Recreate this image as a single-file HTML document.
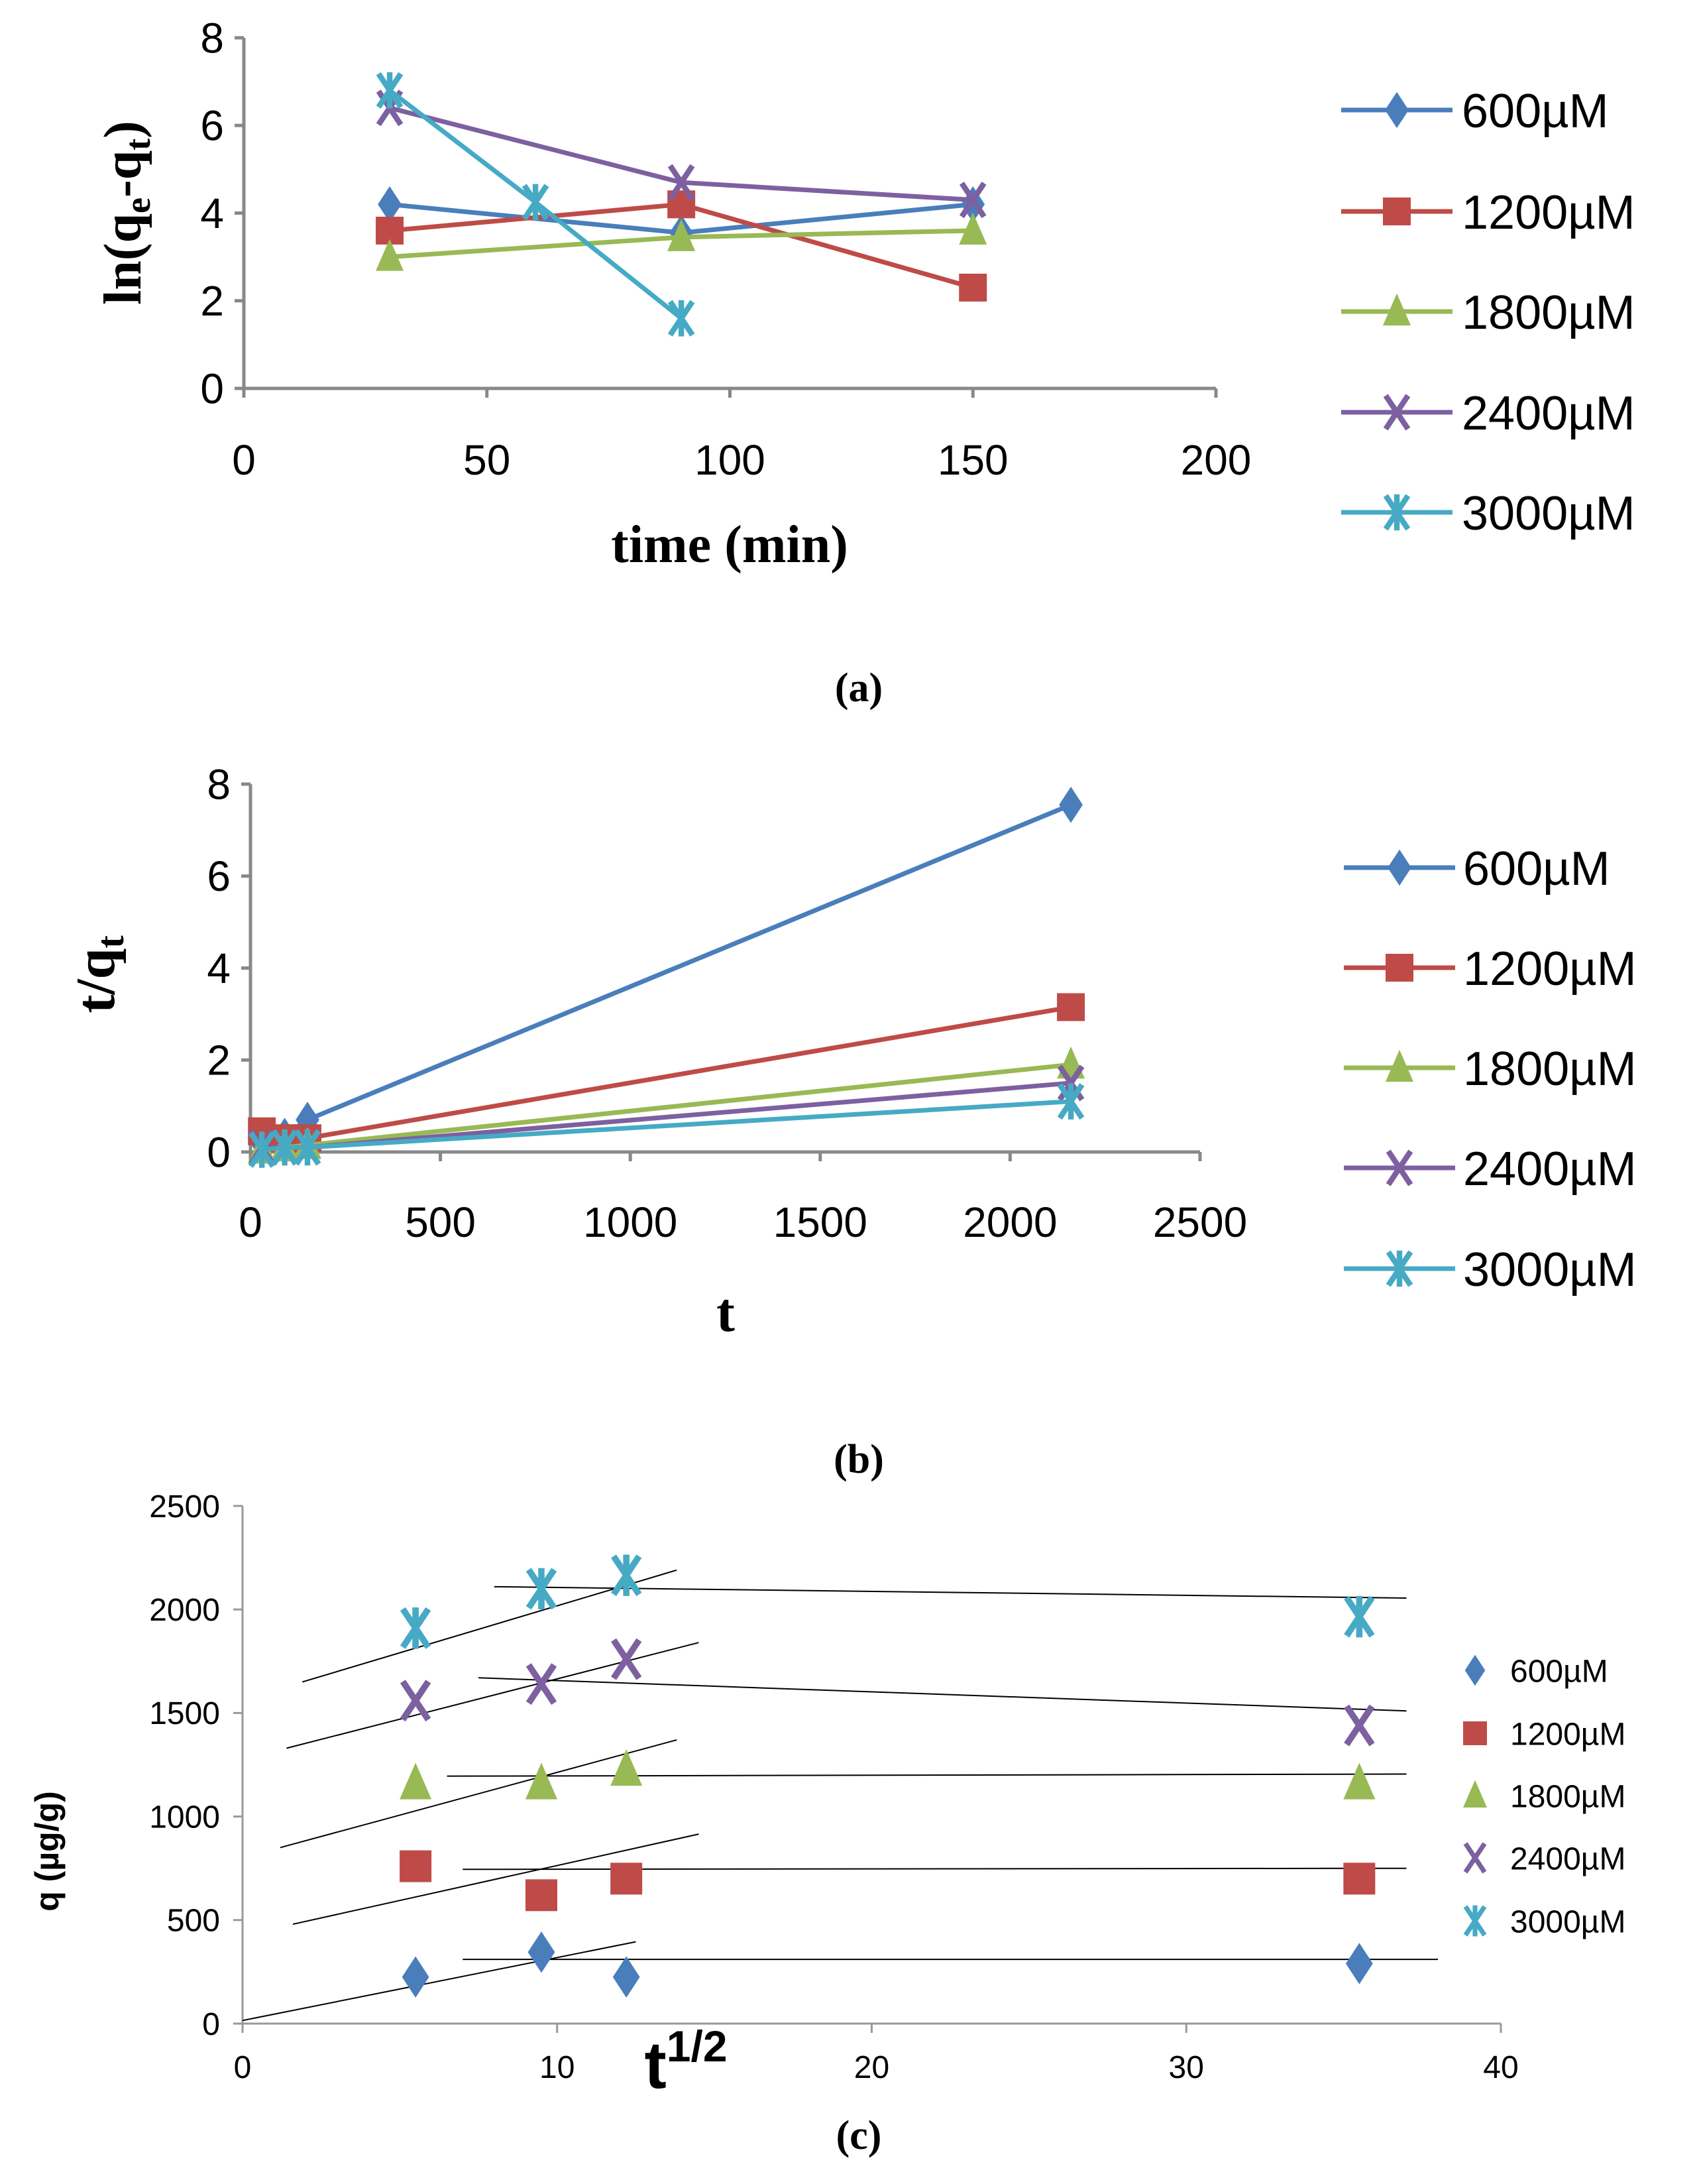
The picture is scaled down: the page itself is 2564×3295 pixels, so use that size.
<!DOCTYPE html>
<html><head><meta charset="utf-8"><style>
html,body{margin:0;padding:0;background:#fff}
svg{display:block}
text{font-family:"Liberation Sans Narrow","Liberation Sans",sans-serif}
.serif{font-family:"Liberation Serif",serif;font-weight:bold}
.sansb{font-family:"Liberation Sans",sans-serif;font-weight:bold}
</style></head><body>
<svg id="fig" width="2564" height="3295" viewBox="0 0 2564 3295" xmlns="http://www.w3.org/2000/svg"></svg>
<script>
const seriesNames=["600µM","1200µM","1800µM","2400µM","3000µM"];
const colors=["#4a7ebb","#be4b48","#98b954","#7d60a0","#46aac5"];
const markers=["diamond","square","triangle","x","star"];
// chart a
const aX=[[30,90,150],[30,90,150],[30,90,150],[30,90,150],[30,60,90]];
const aY=[[4.2,3.55,4.2],[3.6,4.2,2.3],[3.0,3.45,3.6],[6.4,4.7,4.3],[6.8,4.25,1.6]];
const aXTicks=[0,50,100,150,200];
const aYTicks=[0,2,4,6,8];
// chart b
const bX=[30,90,150,2160];
const bY=[[0.2,0.35,0.7,7.55],[0.45,0.3,0.3,3.15],[0.05,0.1,0.15,1.9],[0.1,0.1,0.1,1.5],[0.05,0.1,0.1,1.1]];
const bXTicks=[0,500,1000,1500,2000,2500];
const bYTicks=[0,2,4,6,8];
// chart c
const cX=[5.5,9.5,12.2,35.5];
const cY=[[225,345,225,290],[760,620,700,700],[1160,1160,1225,1160],[1560,1640,1760,1440],[1910,2100,2165,1965]];
const cRise=[[0,15,12.5,395],[1.6,480,14.5,915],[1.2,850,13.8,1370],[1.4,1330,14.5,1840],[1.9,1650,13.8,2190]];
const cFlat=[[7,310,38,310],[7,745,37,750],[6.5,1195,37,1205],[7.5,1670,37,1510],[8,2110,37,2055]];
const cXTicks=[0,10,20,30,40];
const cYTicks=[0,500,1000,1500,2000,2500];

const svg=document.getElementById('fig');
const NS="http://www.w3.org/2000/svg";
function mk(tag,attrs,parent){const e=document.createElementNS(NS,tag);for(const k in attrs)e.setAttribute(k,attrs[k]);(parent||svg).appendChild(e);return e;}
function txt(s,attrs,parent){const e=mk('text',attrs,parent);e.textContent=s;return e;}
function marker(type,x,y,s,color,g){
  if(type==="diamond")return mk('polygon',{points:`${x},${y-s*1.3} ${x+s*0.85},${y} ${x},${y+s*1.3} ${x-s*0.85},${y}`,fill:color},g);
  if(type==="square")return mk('rect',{x:x-s,y:y-s,width:2*s,height:2*s,fill:color},g);
  if(type==="triangle")return mk('polygon',{points:`${x},${y-s*1.3} ${x+s},${y+s} ${x-s},${y+s}`,fill:color},g);
  if(type==="x")return mk('path',{d:`M${x-s*0.8},${y-s*1.2}L${x+s*0.8},${y+s*1.2}M${x+s*0.8},${y-s*1.2}L${x-s*0.8},${y+s*1.2}`,stroke:color,'stroke-width':s*0.4,fill:'none'},g);
  return mk('path',{d:`M${x-s*0.8},${y-s*1.2}L${x+s*0.8},${y+s*1.2}M${x+s*0.8},${y-s*1.2}L${x-s*0.8},${y+s*1.2}M${x},${y-s*1.3}L${x},${y+s*1.3}`,stroke:color,'stroke-width':s*0.4,fill:'none'},g);
}
function axes(g,X,Y,xt,yt,x0,x1,y0,y1,fs,lblDx,lblDy,tickw,axColor){
  mk('line',{x1:X(x0),y1:Y(y0),x2:X(x0),y2:Y(y1),stroke:axColor,'stroke-width':tickw},g);
  mk('line',{x1:X(x0),y1:Y(y0),x2:X(x1),y2:Y(y0),stroke:axColor,'stroke-width':tickw},g);
  yt.forEach(v=>{mk('line',{x1:X(x0)-14,y1:Y(v),x2:X(x0),y2:Y(v),stroke:axColor,'stroke-width':tickw},g);
    const t=txt(String(v),{x:X(x0)-lblDx,y:Y(v)+fs*0.35,'font-size':fs,'text-anchor':'end',fill:'#000'},g);
    
    });
  xt.forEach(v=>{mk('line',{x1:X(v),y1:Y(y0),x2:X(v),y2:Y(y0)+14,stroke:axColor,'stroke-width':tickw},g);
    const t=txt(String(v),{x:X(v),y:Y(y0)+lblDy,'font-size':fs,'text-anchor':'middle',fill:'#000'},g);
    
    });
}
function legend(g,rows,lx1,lx2,tx,fs,ms,withLine){
  rows.forEach((ry,i)=>{
    const e=mk('g',{},g);
    
    
    if(withLine)mk('line',{x1:lx1,y1:ry,x2:lx2,y2:ry,stroke:colors[i],'stroke-width':7},e);
    marker(markers[i],(lx1+lx2)/2,ry,ms,colors[i],e);
    txt(seriesNames[i],{x:tx,y:ry+fs*0.36,'font-size':fs,fill:'#000'},e);
  });
}
// ---- chart a
(function(){
  const g=mk('g',{});
  const X=v=>368+(1835-368)*v/200, Y=v=>586-(586-57)*v/8;
  axes(g,X,Y,aXTicks,aYTicks,0,200,0,8,64,30,130,5,'#888');
  aX.forEach((xs,i)=>{
    const s=mk('g',{},g);
    mk('polyline',{points:xs.map((x,j)=>X(x)+','+Y(aY[i][j])).join(' '),fill:'none',stroke:colors[i],'stroke-width':7},s);
    xs.forEach((x,j)=>marker(markers[i],X(x),Y(aY[i][j]),21,colors[i],s));
  });
  txt('time (min)',{x:1101,y:848,'font-size':80,'text-anchor':'middle',class:'serif'},g);
  const yt=mk('text',{transform:'translate(212,321) rotate(-90)','font-size':80,'text-anchor':'middle',class:'serif'},g);
  
  yt.innerHTML='ln(q<tspan font-size="54" dy="14">e</tspan><tspan dy="-14">-q</tspan><tspan font-size="54" dy="14">t</tspan><tspan dy="-14">)</tspan>';
  legend(g,[166,319,470,622,773],2024,2192,2206,72,21,true);
  txt('(a)',{x:1296,y:1058,'font-size':62,'text-anchor':'middle',class:'serif'},g);
})();
// ---- chart b
(function(){
  const g=mk('g',{});
  const X=v=>378+(1811-378)*v/2500, Y=v=>1738-(1738-1183)*v/8;
  axes(g,X,Y,bXTicks,bYTicks,0,2500,0,8,64,30,128,5,'#888');
  bY.forEach((ys,i)=>{
    const s=mk('g',{},g);
    mk('polyline',{points:bX.map((x,j)=>X(x)+','+Y(ys[j])).join(' '),fill:'none',stroke:colors[i],'stroke-width':7},s);
    bX.forEach((x,j)=>marker(markers[i],X(x),Y(ys[j]),21,colors[i],s));
  });
  txt('t',{x:1095,y:2008,'font-size':84,'text-anchor':'middle',class:'serif'},g);
  const yt=mk('text',{transform:'translate(172,1470) rotate(-90)','font-size':84,'text-anchor':'middle',class:'serif'},g);
  
  yt.innerHTML='t/q<tspan font-size="58" dy="14">t</tspan>';
  legend(g,[1309,1460,1611,1762,1914],2028,2196,2208,72,21,true);
  txt('(b)',{x:1296,y:2222,'font-size':62,'text-anchor':'middle',class:'serif'},g);
})();
// ---- chart c
(function(){
  const g=mk('g',{});
  const X=v=>366+(2265-366)*v/40, Y=v=>3053-(3053-2272)*v/2500;
  axes(g,X,Y,cXTicks,cYTicks,0,40,0,2500,48,34,82,3,'#999');
  cY.forEach((ys,i)=>{
    const s=mk('g',{},g);
    const r=cRise[i],f=cFlat[i];
    mk('line',{x1:X(r[0]),y1:Y(r[1]),x2:X(r[2]),y2:Y(r[3]),stroke:'#000','stroke-width':2},s);
    mk('line',{x1:X(f[0]),y1:Y(f[1]),x2:X(f[2]),y2:Y(f[3]),stroke:'#000','stroke-width':2},s);
    cX.forEach((x,j)=>marker(markers[i],X(x),Y(ys[j]),24,colors[i],s));
  });
  const xt=mk('text',{x:1035,y:3150,'font-size':100,'text-anchor':'middle',class:'sansb'},g);
  
  xt.innerHTML='t<tspan font-size="66" dy="-40">1/2</tspan>';
  txt('q (µg/g)',{transform:'translate(88,2793) rotate(-90)','font-size':50,'text-anchor':'middle',class:'sansb'},g);
  legend(g,[2520,2615,2709,2803,2898],2205,2247,2279,48,18,false);
  txt('(c)',{x:1296,y:3242,'font-size':62,'text-anchor':'middle',class:'serif'},g);
})();
</script>
</body></html>
